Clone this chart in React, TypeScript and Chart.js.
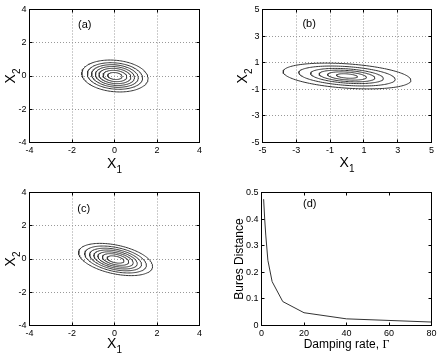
import React, { useEffect, useRef } from "react";
import { Chart, registerables } from "chart.js";
Chart.register(...registerables);

const SANS = "'Liberation Sans', Arial, Helvetica, sans-serif";
const SERIF = "'Liberation Serif', 'Times New Roman', serif";

// ---------- Panel (a) ----------
const aTicks = [-4, -2, 0, 2, 4];
const aLabels = ["-4", "-2", "0", "2", "4"];
const aCenter = [0.02, 0];
const aHalfX = [1.56, 1.3, 1.1, 0.92, 0.75, 0.56, 0.34];
const aHalfY = [0.96, 0.8, 0.68, 0.57, 0.46, 0.34, 0.21];
const aCorr = -0.15;

// ---------- Panel (b) ----------
const bTicks = [-5, -3, -1, 1, 3, 5];
const bLabels = ["-5", "-3", "-1", "1", "3", "5"];
const bCenter = [0, 0];
const bHalfX = [3.78, 2.85, 2.15, 1.65, 1.15, 0.62];
const bHalfY = [0.97, 0.75, 0.57, 0.44, 0.31, 0.17];
const bCorr = -0.33;

// ---------- Panel (c) ----------
const cTicks = [-4, -2, 0, 2, 4];
const cLabels = ["-4", "-2", "0", "2", "4"];
const cCenter = [0.05, -0.03];
const cHalfX = [1.74, 1.45, 1.22, 1.02, 0.83, 0.62, 0.4];
const cHalfY = [0.97, 0.81, 0.68, 0.57, 0.46, 0.35, 0.22];
const cCorr = -0.42;

// ---------- Panel (d) ----------
const dGamma = [1, 1.5, 2, 3, 5, 10, 20, 40, 60, 80];
const dBures = [0.475, 0.4, 0.34, 0.245, 0.165, 0.09, 0.048, 0.025, 0.019, 0.013];
const dXTicks = [0, 20, 40, 60, 80];
const dXLabels = ["0", "20", "40", "60", "80"];
const dYTicks = [0, 0.1, 0.2, 0.3, 0.4, 0.5];
const dYLabels = ["0", "0.1", "0.2", "0.3", "0.4", "0.5"];

const LINE = "#333";

function ellipse(cx: number, cy: number, hx: number, hy: number, r: number, n = 140) {
  const pts: { x: number; y: number }[] = [];
  const s = Math.sqrt(1 - r * r);
  for (let i = 0; i <= n; i++) {
    const t = (2 * Math.PI * i) / n;
    pts.push({ x: cx + hx * Math.cos(t), y: cy + hy * (r * Math.cos(t) + s * Math.sin(t)) });
  }
  return pts;
}

function contourSets(center: number[], hx: number[], hy: number[], r: number) {
  return hx.map((h, i) => ({
    data: ellipse(center[0], center[1], h, hy[i], r),
    showLine: true,
    borderColor: LINE,
    borderWidth: 1,
    pointRadius: 0,
    fill: false,
    tension: 0,
  }));
}

type Part = { text: string; font: string; dy: number };

function drawParts(ctx: CanvasRenderingContext2D, parts: Part[], cx: number, baseline: number) {
  let total = 0;
  const widths = parts.map((p) => {
    ctx.font = p.font;
    const w = ctx.measureText(p.text).width;
    total += w;
    return w;
  });
  let x = cx - total / 2;
  ctx.textAlign = "left";
  ctx.textBaseline = "alphabetic";
  parts.forEach((p, i) => {
    ctx.font = p.font;
    ctx.fillText(p.text, x, baseline + p.dy);
    x += widths[i];
  });
}

const decor = {
  id: "decor",
  afterDraw(chart: any, _args: any, opts: any) {
    const { ctx, chartArea: a, scales } = chart;
    const xs = scales.x;
    const ys = scales.y;
    const al = (v: number) => Math.round(v - 0.5) + 0.5;
    ctx.save();
    ctx.strokeStyle = "#000";
    ctx.lineWidth = 1;
    ctx.setLineDash([]);
    ctx.strokeRect(a.left, a.top, a.right - a.left, a.bottom - a.top);
    const L = 3;
    ctx.beginPath();
    xs.ticks.forEach((t: any) => {
      const px = al(xs.getPixelForValue(t.value));
      ctx.moveTo(px, a.bottom);
      ctx.lineTo(px, a.bottom - L);
      ctx.moveTo(px, a.top);
      ctx.lineTo(px, a.top + L);
    });
    ys.ticks.forEach((t: any) => {
      const py = al(ys.getPixelForValue(t.value));
      ctx.moveTo(a.left, py);
      ctx.lineTo(a.left + L, py);
      ctx.moveTo(a.right, py);
      ctx.lineTo(a.right - L, py);
    });
    ctx.stroke();

    ctx.fillStyle = "#000";
    // panel tag
    ctx.font = `11px ${SANS}`;
    ctx.textAlign = "center";
    ctx.textBaseline = "middle";
    ctx.fillText(opts.tag, xs.getPixelForValue(opts.tagAt[0]), ys.getPixelForValue(opts.tagAt[1]));

    // x title
    drawParts(ctx, opts.xTitle, (a.left + a.right) / 2, opts.xBaseline);
    // y title (rotated)
    ctx.translate(opts.yBaseline, (a.top + a.bottom) / 2);
    ctx.rotate(-Math.PI / 2);
    drawParts(ctx, opts.yTitle, 0, 0);
    ctx.restore();
  },
};

type PanelDef = {
  left: number;
  top: number;
  width: number;
  height: number;
  area: number[];
  xMin: number;
  xMax: number;
  yMin: number;
  yMax: number;
  xTicks: number[];
  xLabels: string[];
  yTicks: number[];
  yLabels: string[];
  grid: boolean;
  datasets: any[];
  decor: any;
};

const X1: Part[] = [
  { text: "X", font: `14px ${SANS}`, dy: 0 },
  { text: "1", font: `10px ${SANS}`, dy: 5 },
];
const X2: Part[] = [
  { text: "X", font: `14px ${SANS}`, dy: 0 },
  { text: "2", font: `10px ${SANS}`, dy: 5 },
];

const panels: PanelDef[] = [
  {
    left: 0, top: 0, width: 220, height: 180,
    area: [29.5, 9.5, 199.5, 142.5],
    xMin: -4, xMax: 4, yMin: -4, yMax: 4,
    xTicks: aTicks, xLabels: aLabels, yTicks: aTicks, yLabels: aLabels,
    grid: true,
    datasets: contourSets(aCenter, aHalfX, aHalfY, aCorr),
    decor: { tag: "(a)", tagAt: [-1.4, 3.05], xTitle: X1, xBaseline: 168, yTitle: X2, yBaseline: 14.5 },
  },
  {
    left: 220, top: 0, width: 220, height: 180,
    area: [42.5, 9.5, 211.5, 142.5],
    xMin: -5, xMax: 5, yMin: -5, yMax: 5,
    xTicks: bTicks, xLabels: bLabels, yTicks: bTicks, yLabels: bLabels,
    grid: true,
    datasets: contourSets(bCenter, bHalfX, bHalfY, bCorr),
    decor: { tag: "(b)", tagAt: [-2.24, 3.93], xTitle: X1, xBaseline: 167, yTitle: X2, yBaseline: 27 },
  },
  {
    left: 0, top: 180, width: 220, height: 179,
    area: [29.5, 12.5, 199.5, 145.5],
    xMin: -4, xMax: 4, yMin: -4, yMax: 4,
    xTicks: cTicks, xLabels: cLabels, yTicks: cTicks, yLabels: cLabels,
    grid: true,
    datasets: contourSets(cCenter, cHalfX, cHalfY, cCorr),
    decor: { tag: "(c)", tagAt: [-1.45, 3.0], xTitle: X1, xBaseline: 168, yTitle: X2, yBaseline: 14.5 },
  },
  {
    left: 220, top: 180, width: 220, height: 179,
    area: [41.5, 12.5, 211.5, 145.5],
    xMin: 0, xMax: 80, yMin: 0, yMax: 0.5,
    xTicks: dXTicks, xLabels: dXLabels, yTicks: dYTicks, yLabels: dYLabels,
    grid: false,
    datasets: [
      {
        data: dGamma.map((g, i) => ({ x: g, y: dBures[i] })),
        showLine: true,
        borderColor: LINE,
        borderWidth: 1,
        pointRadius: 0,
        fill: false,
        tension: 0,
      },
    ],
    decor: {
      tag: "(d)",
      tagAt: [22.7, 0.456],
      xTitle: [
        { text: "Damping rate, ", font: `12px ${SANS}`, dy: 0 },
        { text: "Γ", font: `12px ${SERIF}`, dy: 0 },
      ],
      xBaseline: 168,
      yTitle: [{ text: "Bures Distance", font: `12px ${SANS}`, dy: 0 }],
      yBaseline: 23,
    },
  },
];

function PanelChart({ p }: { p: PanelDef }) {
  const ref = useRef<HTMLCanvasElement | null>(null);
  useEffect(() => {
    const [l, t, r, b] = p.area;
    const tickFont = { family: SANS, size: 9 };
    const chart = new Chart(ref.current as HTMLCanvasElement, {
      type: "scatter",
      data: { datasets: p.datasets },
      options: {
        responsive: false,
        animation: false,
        devicePixelRatio: 1,
        events: [],
        layout: { padding: { left: 0, top: t, right: p.width - r, bottom: 0 } },
        plugins: {
          legend: { display: false },
          tooltip: { enabled: false },
          decor: p.decor,
        } as any,
        scales: {
          x: {
            type: "linear",
            min: p.xMin,
            max: p.xMax,
            afterBuildTicks: (s: any) => {
              s.ticks = p.xTicks.map((v) => ({ value: v }));
            },
            afterFit: (s: any) => {
              s.height = p.height - b;
            },
            grid: { display: p.grid, drawTicks: false, color: "#999", lineWidth: 1 },
            border: { display: false, dash: [1, 2] },
            ticks: {
              padding: 3,
              font: tickFont,
              color: "#000",
              maxRotation: 0,
              autoSkip: false,
              callback: (v: any) => p.xLabels[p.xTicks.indexOf(Number(v))] ?? "",
            },
          },
          y: {
            type: "linear",
            min: p.yMin,
            max: p.yMax,
            afterBuildTicks: (s: any) => {
              s.ticks = p.yTicks.map((v) => ({ value: v }));
            },
            afterFit: (s: any) => {
              s.width = l;
            },
            grid: { display: p.grid, drawTicks: false, color: "#999", lineWidth: 1 },
            border: { display: false, dash: [1, 2] },
            ticks: {
              padding: 3,
              font: tickFont,
              color: "#000",
              autoSkip: false,
              callback: (v: any) => p.yLabels[p.yTicks.indexOf(Number(v))] ?? "",
            },
          },
        },
      } as any,
      plugins: [decor as any],
    });
    return () => chart.destroy();
  }, []);
  return (
    <canvas
      ref={ref}
      width={p.width}
      height={p.height}
      style={{ position: "absolute", left: p.left, top: p.top, width: p.width, height: p.height }}
    />
  );
}

export default function App() {
  return (
    <div style={{ position: "absolute", left: 0, top: 0, width: 440, height: 359, background: "#fff" }}>
      {panels.map((p, i) => (
        <PanelChart key={i} p={p} />
      ))}
    </div>
  );
}
